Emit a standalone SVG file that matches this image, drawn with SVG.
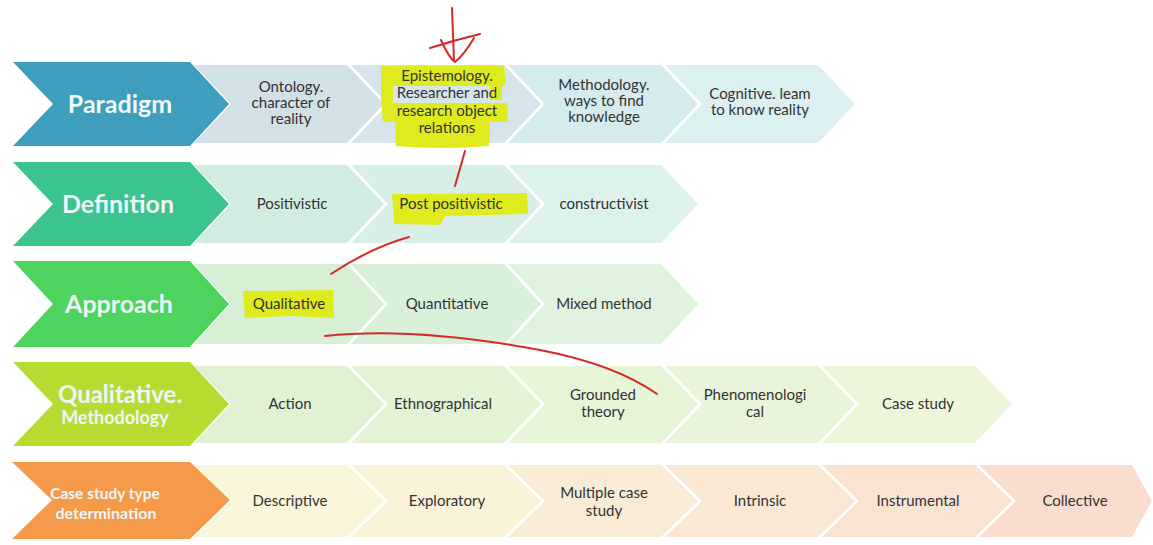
<svg xmlns="http://www.w3.org/2000/svg" width="1153" height="545" viewBox="0 0 1153 545">
<style>
.hdr{font-family:Lato,"Open Sans","Liberation Sans",sans-serif;font-weight:bold;text-anchor:middle;fill:#eef7f8}
.lbl{font-family:Lato,"Open Sans","Liberation Sans",sans-serif;font-size:15px;text-anchor:middle;fill:#333333}
.hl{fill:#dfeb1c}
.ann{fill:none;stroke:#d42a2a;stroke-width:2;stroke-linecap:round;stroke-linejoin:round}
</style>
<rect width="1153" height="545" fill="#ffffff"/>

<!-- Row 1 -->
<g id="paradigm"><polygon points="13,62 190,62 229,104 190,146 13,146 53,104" fill="#3E9EBE"/><text class="hdr" x="120" y="113" font-size="25">Paradigm</text></g>
<g id="ontology"><polygon points="194,65 347,65 384,104 347,143 194,143 231,104" fill="#D2E0E8"/><text class="lbl" x="291" y="92">Ontology.</text><text class="lbl" x="291" y="108">character of</text><text class="lbl" x="291" y="124">reality</text></g>
<g id="epistemology"><polygon points="351,65 504,65 541,104 504,143 351,143 388,104" fill="#D5E5EB"/>
<path class="hl" d="M381,66 L504,65 L506,84 L502,86 L502,100 L490,100 L490,86 L393,86 L393,103 L507,103 L508,122 L490,122 L489,146 Q440,150 396,146 L395,122 L383,122 L381,100 Z"/>
<text class="lbl" x="447" y="81">Epistemology.</text><text class="lbl" x="447" y="98">Researcher and</text><text class="lbl" x="447" y="116">research object</text><text class="lbl" x="447" y="133">relations</text></g>
<g id="methodology"><polygon points="508,65 661,65 698,104 661,143 508,143 545,104" fill="#D6EBEE"/><text class="lbl" x="604" y="90">Methodology.</text><text class="lbl" x="604" y="106">ways to find</text><text class="lbl" x="604" y="122">knowledge</text></g>
<g id="cognitive"><polygon points="665,65 818,65 855,104 818,143 665,143 702,104" fill="#DCF0F1"/><text class="lbl" x="760" y="99">Cognitive. leam</text><text class="lbl" x="760" y="115">to know reality</text></g>

<!-- Row 2 -->
<g id="definition"><polygon points="13,162 190,162 229,204 190,246 13,246 53,204" fill="#3CC48F"/><text class="hdr" x="118" y="213" font-size="25">Definition</text></g>
<g id="positivistic"><polygon points="194,165 347,165 384,204 347,243 194,243 231,204" fill="#D2ECE2"/><text class="lbl" x="292" y="209">Positivistic</text></g>
<g id="post-positivistic"><polygon points="351,165 504,165 541,204 504,243 351,243 388,204" fill="#D7EFE6"/>
<path class="hl" d="M392,194 L527,193 L528,214 L445,216 L440,225 L394,224 Z"/>
<text class="lbl" x="451" y="209">Post positivistic</text></g>
<g id="constructivist"><polygon points="508,165 661,165 698,204 661,243 508,243 545,204" fill="#DDF2EA"/><text class="lbl" x="604" y="209">constructivist</text></g>

<!-- Row 3 -->
<g id="approach"><polygon points="13,261 190,261 229,304 190,347 13,347 53,304" fill="#4ED45E"/><text class="hdr" x="119" y="313" font-size="25">Approach</text></g>
<g id="qualitative"><polygon points="194,264 347,264 384,304 347,344 194,344 231,304" fill="#D6EFD5"/>
<path class="hl" d="M243,291 L333,290 L334,318 L290,316 L245,318 Z"/>
<text class="lbl" x="289" y="309">Qualitative</text></g>
<g id="quantitative"><polygon points="351,264 504,264 541,304 504,344 351,344 388,304" fill="#DAF1D9"/><text class="lbl" x="447" y="309">Quantitative</text></g>
<g id="mixed-method"><polygon points="508,264 661,264 698,304 661,344 508,344 545,304" fill="#E0F3DF"/><text class="lbl" x="604" y="309">Mixed method</text></g>

<!-- Row 4 -->
<g id="qualitative-methodology"><polygon points="13,362 190,362 229,404 190,446 13,446 53,404" fill="#B8DB32"/><text class="hdr" x="120" y="403" font-size="24">Qualitative.</text><text class="hdr" x="115" y="424" font-size="18">Methodology</text></g>
<g id="action"><polygon points="194,366 347,366 384,404 347,443 194,443 231,404" fill="#E0F2D4"/><text class="lbl" x="290" y="409">Action</text></g>
<g id="ethnographical"><polygon points="351,366 504,366 541,404 504,443 351,443 388,404" fill="#E3F3D6"/><text class="lbl" x="443" y="409">Ethnographical</text></g>
<g id="grounded-theory"><polygon points="508,366 661,366 698,404 661,443 508,443 545,404" fill="#E6F4D8"/><text class="lbl" x="603" y="400">Grounded</text><text class="lbl" x="603" y="417">theory</text></g>
<g id="phenomenological"><polygon points="665,366 818,366 855,404 818,443 665,443 702,404" fill="#E9F5DA"/><text class="lbl" x="755" y="400">Phenomenologi</text><text class="lbl" x="755" y="417">cal</text></g>
<g id="case-study"><polygon points="822,366 975,366 1012,404 975,443 822,443 859,404" fill="#EDF6DB"/><text class="lbl" x="918" y="409">Case study</text></g>

<!-- Row 5 -->
<g id="case-study-type"><polygon points="12,462 190,462 230,500 190,539 12,539 52,500" fill="#F5994A"/><text class="hdr" x="105" y="499" font-size="15.5">Case study type</text><text class="hdr" x="106" y="519" font-size="16">determination</text></g>
<g id="descriptive"><polygon points="194,465 347,465 384,501 347,537 194,537 231,501" fill="#FAF6DB"/><text class="lbl" x="290" y="506">Descriptive</text></g>
<g id="exploratory"><polygon points="351,465 504,465 541,501 504,537 351,537 388,501" fill="#FAF2D9"/><text class="lbl" x="447" y="506">Exploratory</text></g>
<g id="multiple-case-study"><polygon points="508,465 661,465 698,501 661,537 508,537 545,501" fill="#F9ECD6"/><text class="lbl" x="604" y="498">Multiple case</text><text class="lbl" x="604" y="516">study</text></g>
<g id="intrinsic"><polygon points="665,465 818,465 855,501 818,537 665,537 702,501" fill="#FAE8D4"/><text class="lbl" x="760" y="506">Intrinsic</text></g>
<g id="instrumental"><polygon points="822,465 975,465 1012,501 975,537 822,537 859,501" fill="#FBE3D2"/><text class="lbl" x="918" y="506">Instrumental</text></g>
<g id="collective"><polygon points="979,465 1132,465 1152,501 1132,537 979,537 1016,501" fill="#FBDDD0"/><text class="lbl" x="1075" y="506">Collective</text></g>

<!-- Hand-drawn red annotations -->
<g id="connectors">
<path class="ann" d="M452,8 L454,61"/>
<path class="ann" d="M430,48 Q455,40 480,34"/>
<path class="ann" d="M441,40 Q449,58 455,62 Q464,55 474,38"/>
<path class="ann" d="M465,151 L455,186"/>
<path class="ann" d="M409,237 Q370,248 331,274"/>
<path class="ann" d="M325,336 C390,329 470,337 540,350 C592,360 630,375 657,394"/>
</g>
</svg>
